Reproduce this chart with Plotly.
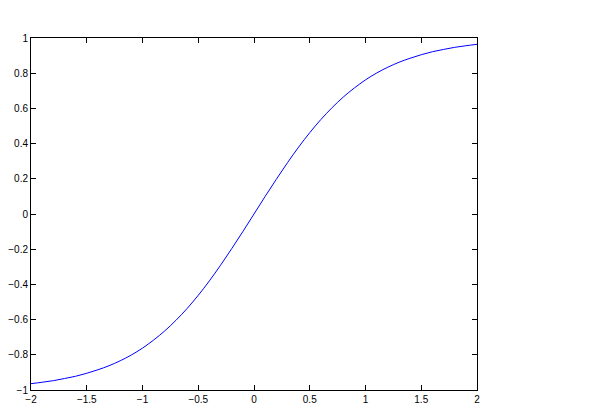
import plotly.graph_objects as go

x_vals = [-2.0, -1.9, -1.8, -1.7, -1.6, -1.5, -1.4, -1.3, -1.2, -1.1, -1.0,
          -0.9, -0.8, -0.7, -0.6, -0.5, -0.4, -0.3, -0.2, -0.1, 0.0,
          0.1, 0.2, 0.3, 0.4, 0.5, 0.6, 0.7, 0.8, 0.9, 1.0,
          1.1, 1.2, 1.3, 1.4, 1.5, 1.6, 1.7, 1.8, 1.9, 2.0]
y_vals = [-0.964, -0.956, -0.947, -0.935, -0.922, -0.905, -0.885, -0.862, -0.834, -0.801, -0.762,
          -0.716, -0.664, -0.604, -0.537, -0.462, -0.380, -0.291, -0.197, -0.100, 0.0,
          0.100, 0.197, 0.291, 0.380, 0.462, 0.537, 0.604, 0.664, 0.716, 0.762,
          0.801, 0.834, 0.862, 0.885, 0.905, 0.922, 0.935, 0.947, 0.956, 0.964]

fig = go.Figure()
fig.add_trace(go.Scatter(x=x_vals, y=y_vals, mode="lines",
                         line=dict(color="rgb(0,0,255)", width=1, shape="spline"),
                         showlegend=False, hoverinfo="skip"))

axis_common = dict(showgrid=False, zeroline=False, showline=True, linecolor="black",
                   linewidth=1, mirror="ticks", ticks="inside", ticklen=5,
                   tickcolor="black", tickwidth=1, automargin=False,
                   tickfont=dict(family="Liberation Sans, Arial, sans-serif", size=10, color="black"))

fig.update_xaxes(range=[-2, 2], tick0=-2, dtick=0.5, **axis_common)
fig.update_yaxes(range=[-1, 1], tick0=-1, dtick=0.2, **axis_common)

# page body adds an 8px offset, so the figure is sized to fit the window
fig.update_layout(width=601, height=405, autosize=False,
                  margin=dict(l=23, r=132, t=30, b=23),
                  paper_bgcolor="white", plot_bgcolor="white")

fig.write_html("out.html")
